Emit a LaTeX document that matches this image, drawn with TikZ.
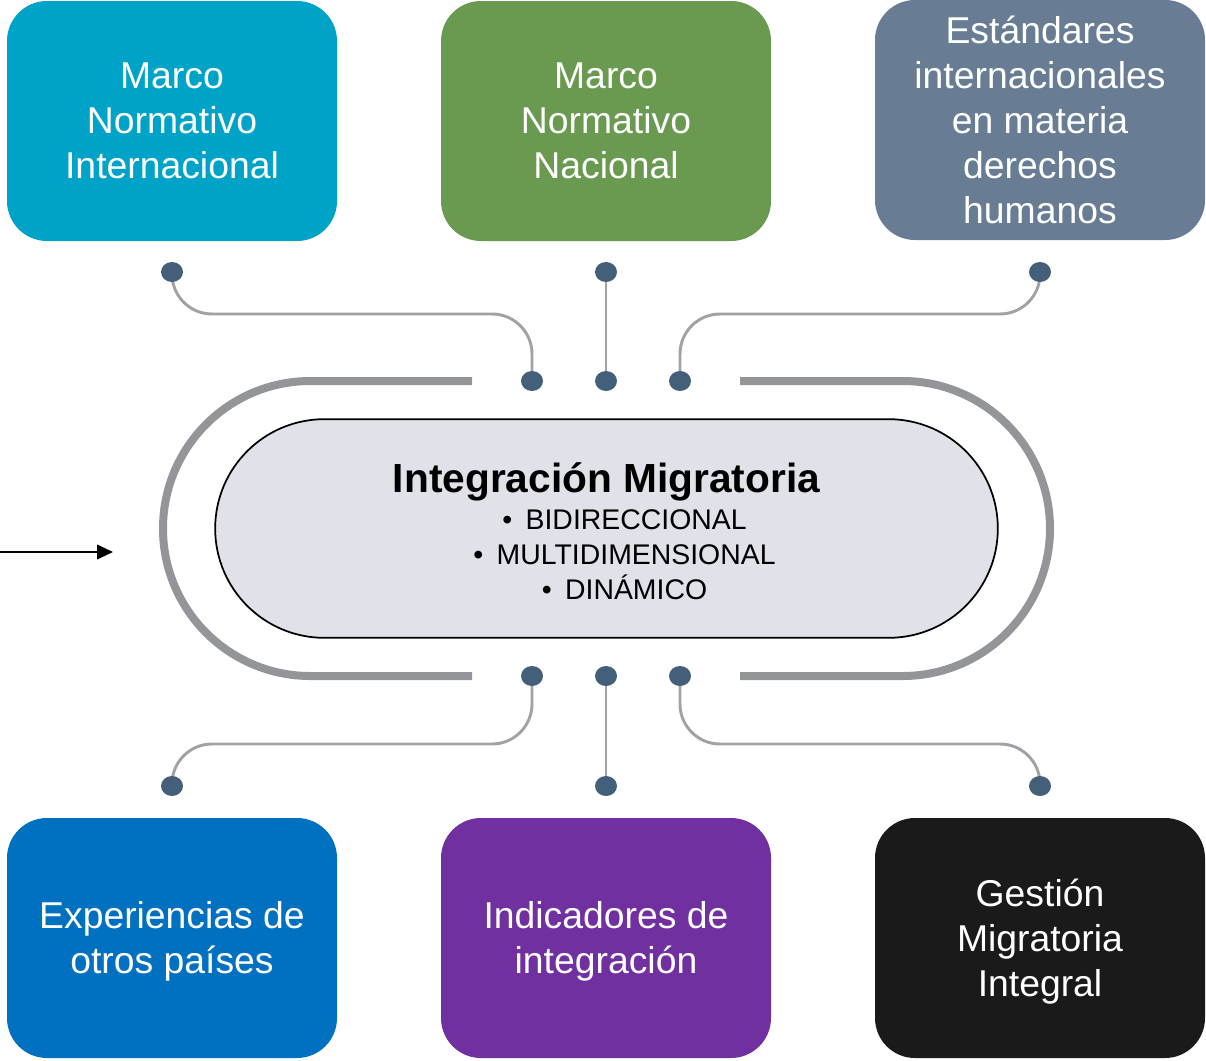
\documentclass[tikz,border=0pt]{standalone}
\usepackage{fontspec}
\setmainfont{Liberation Sans}
\usetikzlibrary{arrows.meta,shapes.geometric,backgrounds}
\definecolor{cyanbox}{HTML}{00A3C8}
\definecolor{greenbox}{HTML}{6A9A50}
\definecolor{slatebox}{HTML}{687D93}
\definecolor{bluebox}{HTML}{0070C0}
\definecolor{purplebox}{HTML}{7030A0}
\definecolor{blackbox}{HTML}{1A1A1A}
\definecolor{dotcol}{HTML}{435F7A}
\definecolor{conncol}{HTML}{A2A2A6}
\definecolor{trackcol}{HTML}{939598}
\definecolor{pillfill}{HTML}{E0E1E9}
\newcommand{\bul}{\hspace*{27pt}•\kern 10pt}
\begin{document}
\begin{tikzpicture}[x=0.75pt,y=-0.75pt,
  box/.style={rectangle, rounded corners=30pt, minimum width=247.5pt, minimum height=180pt,
    align=center, text=white, inner sep=0pt, font=\fontsize{28}{33.75}\selectfont},
  dotnode/.style={ellipse, fill=dotcol, minimum width=16.5pt, minimum height=15pt, inner sep=0pt},
  conn/.style={draw=conncol, line width=2.2pt, rounded corners=30pt},
  track/.style={draw=trackcol, line width=6pt, rounded corners=110.6pt},
  pill/.style={rectangle, rounded corners=82pt, minimum width=587pt, minimum height=164pt,
    fill=pillfill, draw=black, line width=1.3pt, align=center, inner sep=0pt,
    font=\fontsize{21.3}{26.25}\selectfont}
]
\useasboundingbox (0,0) rectangle (1206,1060);

% boxes
\node[box, fill=cyanbox] (b1) at (172,121) {Marco\\Normativo\\Internacional};
\node[box, fill=greenbox] (b2) at (606,121) {Marco\\Normativo\\Nacional};
\node[box, fill=slatebox] (b3) at (1040,120) {Estándares\\internacionales\\en materia\\derechos\\humanos};
\node[box, fill=bluebox] (b4) at (172,938) {\rule{0pt}{25.5pt}Experiencias de\\otros países};
\node[box, fill=purplebox] (b5) at (606,938) {\rule{0pt}{25.5pt}Indicadores de\\integración};
\node[box, fill=blackbox] (b6) at (1040,938) {\rule{0pt}{25.5pt}Gestión\\Migratoria\\Integral};

% outer track
\draw[track] (472,381) -- (163,381) -- (163,676) -- (472,676);
\draw[track] (740,381) -- (1050,381) -- (1050,676) -- (740,676);

% central pill
\node[pill] (core) at (606.5,528.5) {{\fontsize{30.5}{36}\selectfont\bfseries\rule{0pt}{27pt}Integración Migratoria}\\[1.5pt]
  \bul BIDIRECCIONAL\\ \bul MULTIDIMENSIONAL\\ \bul DINÁMICO};

% dots
\node[dotnode] (d1) at (172,272) {};
\node[dotnode] (d2) at (606,272) {};
\node[dotnode] (d3) at (1040,272) {};
\node[dotnode] (d4) at (532,381) {};
\node[dotnode] (d5) at (606,381) {};
\node[dotnode] (d6) at (680,381) {};
\node[dotnode] (d7) at (532,676) {};
\node[dotnode] (d8) at (606,676) {};
\node[dotnode] (d9) at (680,676) {};
\node[dotnode] (d10) at (172,786) {};
\node[dotnode] (d11) at (606,786) {};
\node[dotnode] (d12) at (1040,786) {};

\begin{scope}[on background layer]
\draw[conn] (d1.center) -- ++(0,42) -| (d4.center);
\draw[conn] (d2.center) -- (d5.center);
\draw[conn] (d3.center) -- ++(0,42) -| (d6.center);
\draw[conn] (d7.center) -- ++(0,68) -| (d10.center);
\draw[conn] (d8.center) -- (d11.center);
\draw[conn] (d9.center) -- ++(0,68) -| (d12.center);
\end{scope}

% arrow
\coordinate (a0) at (0,552);
\coordinate (a1) at (113,552);
\draw[line width=1.5pt, -{Triangle[length=12pt,width=11pt]}] (a0) -- (a1);
\end{tikzpicture}
\end{document}
